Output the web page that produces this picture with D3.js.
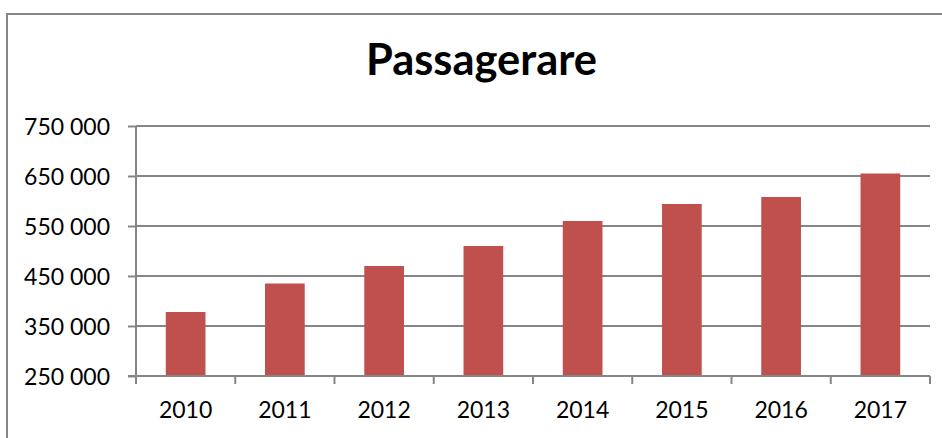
<!DOCTYPE html>
<html>
<head>
<meta charset="utf-8">
<script src="https://cdn.jsdelivr.net/npm/d3@7"></script>
<style>
  html, body { margin: 0; padding: 0; background: #fff; }
  svg { display: block; }
  text { font-family: Lato, "Open Sans", sans-serif; fill: #000; }
</style>
</head>
<body>
<svg id="chart" width="942" height="438"></svg>
<script>
// Passenger counts per year
const years = ["2010", "2011", "2012", "2013", "2014", "2015", "2016", "2017"];
const passengers = [378000, 435000, 470000, 510000, 560000, 594000, 608000, 655000];
const yTicks = [250000, 350000, 450000, 550000, 650000, 750000];
const title = "Passagerare";

const W = 942, H = 438;
const plot = { left: 136, right: 930, top: 126, bottom: 376 };
const gridColor = "#868686";
const barColor = "#C0504D";

const svg = d3.select("#chart");

// chart frame (runs off the right and bottom edges)
svg.append("rect")
  .attr("x", 7).attr("y", 14)
  .attr("width", W + 20).attr("height", H + 20)
  .attr("fill", "#fff")
  .attr("stroke", gridColor).attr("stroke-width", 2);

const x = d3.scaleBand()
  .domain(years)
  .range([plot.left, plot.right])
  .paddingInner(0.6)
  .paddingOuter(0.3);

const y = d3.scaleLinear()
  .domain([yTicks[0], yTicks[yTicks.length - 1]])
  .range([plot.bottom, plot.top]);

// horizontal gridlines
svg.append("g")
  .selectAll("line")
  .data(yTicks.slice(1))
  .join("line")
  .attr("x1", plot.left).attr("x2", plot.right)
  .attr("y1", d => y(d)).attr("y2", d => y(d))
  .attr("stroke", gridColor).attr("stroke-width", 2);

// bars
svg.append("g")
  .selectAll("rect")
  .data(years.map((yr, i) => ({ yr, v: passengers[i] })))
  .join("rect")
  .attr("x", d => x(d.yr))
  .attr("width", x.bandwidth())
  .attr("y", d => y(d.v))
  .attr("height", d => y(yTicks[0]) - y(d.v))
  .attr("fill", barColor);

// y axis
const fmt = d => d3.format(",")(d).replace(/,/g, " ");
const yAxis = d3.axisLeft(y)
  .tickValues(yTicks)
  .tickFormat(fmt)
  .tickSize(8)
  .tickPadding(18);
const gy = svg.append("g")
  .attr("transform", `translate(${plot.left},0)`)
  .call(yAxis);
gy.select(".domain").remove();
gy.selectAll(".tick line").attr("stroke", gridColor).attr("stroke-width", 2);
gy.selectAll(".tick text")
  .style("font-size", "23px")
  .attr("dy", "0.35em");
gy.append("line")
  .attr("x1", 0).attr("x2", 0)
  .attr("y1", plot.top).attr("y2", plot.bottom + 8)
  .attr("stroke", gridColor).attr("stroke-width", 2);

// x axis: ticks at category boundaries
const gx = svg.append("g").attr("transform", `translate(0,${plot.bottom})`);
gx.append("line")
  .attr("x1", plot.left - 8).attr("x2", plot.right)
  .attr("stroke", gridColor).attr("stroke-width", 2);
const step = x.step();
const bounds = d3.range(years.length + 1).map(i => plot.left + i * step);
gx.selectAll("line.tk")
  .data(bounds)
  .join("line")
  .attr("class", "tk")
  .attr("x1", d => d).attr("x2", d => d)
  .attr("y1", 0).attr("y2", 8)
  .attr("stroke", gridColor).attr("stroke-width", 2);
gx.selectAll("text")
  .data(years)
  .join("text")
  .attr("x", d => x(d) + x.bandwidth() / 2)
  .attr("y", 42)
  .attr("text-anchor", "middle")
  .style("font-size", "23px")
  .text(d => d);

// title
const t = svg.append("text")
  .attr("x", 481.5).attr("y", 75)
  .attr("text-anchor", "middle")
  .style("font-size", "34px")
  .style("font-weight", "bold")
  .text(title);
const tw = t.node().getComputedTextLength();
t.style("font-size", (34 * 231 / tw).toFixed(2) + "px");
</script>
</body>
</html>
